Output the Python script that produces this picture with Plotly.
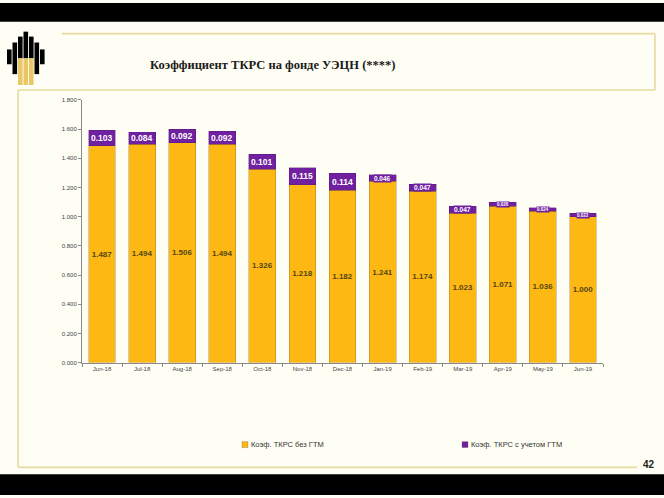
import plotly.graph_objects as go

W, H = 664, 498

categories = ["Jun-18", "Jul-18", "Aug-18", "Sep-18", "Oct-18", "Nov-18", "Dec-18",
              "Jan-19", "Feb-19", "Mar-19", "Apr-19", "May-19", "Jun-19"]
base_values = [1.487, 1.494, 1.506, 1.494, 1.326, 1.218, 1.182,
               1.241, 1.174, 1.023, 1.071, 1.036, 1.000]
gtm_values = [0.103, 0.084, 0.092, 0.092, 0.101, 0.115, 0.114,
              0.046, 0.047, 0.047, 0.026, 0.024, 0.022]
y_ticks = [0.0, 0.2, 0.4, 0.6, 0.8, 1.0, 1.2, 1.4, 1.6, 1.8]
series_names = ["Коэф. ТКРС без ГТМ", "Коэф. ТКРС с учетом ГТМ"]
title_text = "Коэффициент ТКРС на фонде УЭЦН (****)"
page_number = "42"

ORANGE = "#FDB813"
PURPLE = "#7021A0"
CREAM = "#FFFEF4"
GOLD_LINE = "#E8DA9E"

Y_MAX = 1.8
PLOT_TOP, PLOT_BOTTOM = 98, 364
PX_PER_UNIT = (PLOT_BOTTOM - PLOT_TOP) / Y_MAX


def px(x):
    return x / W


def py(y):
    return 1 - y / H


fig = go.Figure()
fig.add_trace(go.Bar(
    x=categories, y=base_values, name=series_names[0],
    marker=dict(color=ORANGE, line=dict(color="rgba(130,100,40,0.55)", width=0.6)),
    texttemplate="<b>%{y:.3f}</b>", textposition="inside", insidetextanchor="middle",
    textangle=0,
    textfont=dict(family="Liberation Sans, Arial", size=8, color="#574514"),
    showlegend=False, hoverinfo="skip",
))
fig.add_trace(go.Bar(
    x=categories, y=gtm_values, name=series_names[1],
    marker=dict(color=PURPLE, line=dict(color="rgba(80,20,110,0.6)", width=0.6)),
    textposition="none",
    showlegend=False, hoverinfo="skip",
))

annotations = []
# purple segment labels (placed through the data axes)
for c, b, g in zip(categories, base_values, gtm_values):
    seg_px = g * PX_PER_UNIT
    fs = min(8.5, max(4.5, seg_px * 0.95))
    annotations.append(dict(
        x=c, y=b + g / 2, xref="x", yref="y", text="<b>%.3f</b>" % g, showarrow=False,
        xanchor="center", yanchor="middle", bgcolor=PURPLE, borderpad=0,
        font=dict(family="Liberation Sans, Arial", size=fs, color="white")))

shapes = []
# letterbox bands
shapes.append(dict(type="rect", xref="paper", yref="paper", x0=0, x1=1, y0=py(19), y1=1,
                   fillcolor="black", line=dict(width=0), layer="below"))
shapes.append(dict(type="rect", xref="paper", yref="paper", x0=0, x1=1, y0=0, y1=py(477),
                   fillcolor="black", line=dict(width=0), layer="below"))
# frame lines
for (x0, y0, x1, y1) in [(62, 31, 655, 31), (655, 31, 655, 88), (18, 88, 655, 88),
                         (18, 88, 18, 470), (18, 470, 637, 470)]:
    shapes.append(dict(type="line", xref="paper", yref="paper", x0=px(x0), y0=py(y0),
                       x1=px(x1), y1=py(y1), line=dict(color=GOLD_LINE, width=1.6)))

# logo
logo_bars = [(7, 11.6, 47, 62), (12.5, 17.1, 40, 72), (18, 22.6, 34, 83), (23.5, 28.1, 29, 83),
             (29, 33.6, 34, 83), (34.5, 39.1, 40, 72), (40, 44.6, 47, 62)]
for i, (x0, x1, t, b) in enumerate(logo_bars):
    if 2 <= i <= 4:
        shapes.append(dict(type="rect", xref="paper", yref="paper", x0=px(x0), x1=px(x1),
                           y0=py(56), y1=py(t), fillcolor="black", line=dict(width=0)))
        shapes.append(dict(type="rect", xref="paper", yref="paper", x0=px(x0), x1=px(x1),
                           y0=py(b), y1=py(56), fillcolor="#E9C766", line=dict(width=0)))
    else:
        shapes.append(dict(type="rect", xref="paper", yref="paper", x0=px(x0), x1=px(x1),
                           y0=py(b), y1=py(t), fillcolor="black", line=dict(width=0)))

# legend squares
for (cx, col) in [(245, ORANGE), (465, PURPLE)]:
    shapes.append(dict(type="rect", xref="paper", yref="paper", x0=px(cx - 3), x1=px(cx + 3),
                       y0=py(450), y1=py(444), fillcolor=col,
                       line=dict(color="rgba(90,70,40,0.5)", width=0.5)))

annotations += [
    dict(text="<b>" + title_text + "</b>", x=px(273), y=py(63), xref="paper", yref="paper",
         showarrow=False, xanchor="center", yanchor="middle",
         font=dict(family="Liberation Serif, Times New Roman", size=12.5, color="#1a1a1a")),
    dict(text=series_names[0], x=px(249), y=py(447), xref="paper", yref="paper",
         showarrow=False, xanchor="left", yanchor="middle",
         font=dict(family="Liberation Sans Narrow, Liberation Sans, Arial", size=7.5, color="#333333")),
    dict(text=series_names[1], x=px(469), y=py(447), xref="paper", yref="paper",
         showarrow=False, xanchor="left", yanchor="middle",
         font=dict(family="Liberation Sans Narrow, Liberation Sans, Arial", size=7.5, color="#333333")),
    dict(text="<b>" + page_number + "</b>", x=px(649), y=py(467), xref="paper", yref="paper",
         showarrow=False, xanchor="center", yanchor="middle",
         font=dict(family="Liberation Sans, Arial", size=10, color="#222222")),
]

fig.update_layout(
    width=W, height=H,
    margin=dict(l=0, r=0, t=0, b=0),
    paper_bgcolor=CREAM, plot_bgcolor=CREAM,
    barmode="stack", bargap=0.33,
    shapes=shapes, annotations=annotations,
    xaxis=dict(domain=[px(82), px(603)], showgrid=False, showline=True, linecolor="#8a8a8a",
               linewidth=1, ticks="outside", tickson="boundaries", ticklen=3,
               tickcolor="#8a8a8a", tickfont=dict(family="Liberation Sans, Arial", size=6,
                                                    color="#444444"), zeroline=False),
    yaxis=dict(domain=[py(PLOT_BOTTOM), py(PLOT_TOP)], range=[0, Y_MAX], tickvals=y_ticks,
               tickformat=".3f", showgrid=False, showline=True, linecolor="#8a8a8a",
               linewidth=1, ticks="outside", ticklen=3, tickcolor="#8a8a8a",
               tickfont=dict(family="Liberation Sans, Arial", size=6, color="#444444"),
               zeroline=False),
)

fig.write_html("out.html", config={"displayModeBar": False},
               post_script="document.body.style.margin='0';document.body.style.padding='0';"
                           "document.body.style.overflow='hidden';"
                           "document.body.style.background='black';")
